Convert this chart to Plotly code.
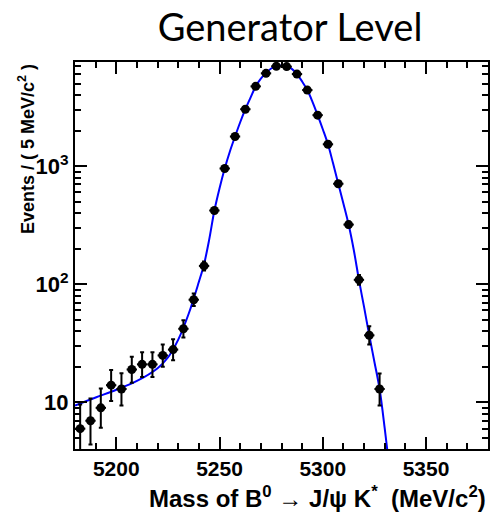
import plotly.graph_objects as go

# Data: bin centers (MeV/c^2) and event counts per 5 MeV bin
mass = [5182.5, 5187.5, 5192.5, 5197.5, 5202.5, 5207.5, 5212.5, 5217.5, 5222.5, 5227.5,
        5232.5, 5237.5, 5242.5, 5247.5, 5252.5, 5257.5, 5262.5, 5267.5, 5272.5, 5277.5,
        5282.5, 5287.5, 5292.5, 5297.5, 5302.5, 5307.5, 5312.5, 5317.5, 5322.5, 5327.5]
counts = [6, 7, 9, 14, 13, 19, 21, 21, 25, 28,
          42, 74, 143, 421, 955, 1780, 3030, 4730, 6100, 7000,
          6950, 6010, 4400, 2700, 1530, 709, 320, 109, 37, 13]
# asymmetric (Poisson-like) error bars
err_up = [3.6, 3.8, 4.1, 4.8, 4.7, 5.4, 5.6, 5.6, 6.0, 6.3,
          7.5, 9.6, 13, 21, 31, 42, 55, 69, 78, 84,
          83, 78, 66, 52, 39, 27, 18, 11, 7.1, 4.6]
err_dn = [2.4, 2.6, 2.9, 3.7, 3.6, 4.3, 4.6, 4.6, 5.0, 5.3,
          6.5, 8.6, 12, 20, 30, 41, 54, 68, 77, 83,
          82, 77, 65, 51, 38, 26, 17, 10, 6.1, 3.6]
bin_half = [2.5] * len(mass)

# Fit curve samples
fit_x = [5180, 5190, 5200, 5210, 5220, 5225, 5230, 5235, 5240, 5242.5, 5245, 5247.5,
         5250, 5252.5, 5255, 5257.5, 5260, 5262.5, 5265, 5267.5, 5270, 5272.5, 5275,
         5277.5, 5280, 5282.5, 5285, 5287.5, 5290, 5292.5, 5295, 5297.5, 5300, 5302.5,
         5305, 5307.5, 5310, 5312.5, 5315, 5317.5, 5320, 5322.5, 5325, 5327.5, 5330, 5332.5]
fit_y = [9.4, 11, 12.8, 15.2, 19.5, 24, 34, 56, 105, 148, 240, 421,
         650, 955, 1330, 1780, 2350, 3030, 3800, 4730, 5500, 6150, 6700,
         7000, 7100, 7000, 6650, 6010, 5200, 4400, 3500, 2700, 2050, 1530,
         1050, 709, 480, 320, 195, 109, 64, 37, 22, 13, 6.0, 2.5]

y_tickvals = [10, 100, 1000]
y_ticktext = ["10", "10<sup>2</sup>", "10<sup>3</sup>"]
y_minorvals = [5, 6, 7, 8, 9, 20, 30, 40, 50, 60, 70, 80, 90,
               200, 300, 400, 500, 600, 700, 800, 900, 2000, 3000, 4000, 5000, 6000, 7000]
x_tickvals = [5200, 5250, 5300, 5350]

fig = go.Figure()
fig.add_trace(go.Scatter(
    x=fit_x, y=fit_y, mode="lines", line=dict(color="#0000ff", width=2, shape="spline"),
    hoverinfo="skip", showlegend=False))
fig.add_trace(go.Scatter(
    x=mass, y=counts, mode="markers",
    marker=dict(color="black", size=9, symbol="circle"),
    error_y=dict(type="data", symmetric=False, array=err_up, arrayminus=err_dn,
                 color="black", thickness=2, width=2),
    error_x=dict(type="data", array=bin_half, color="black", thickness=2, width=0),
    showlegend=False))

axis_common = dict(showline=True, linecolor="black", linewidth=2, mirror="allticks",
                   ticks="inside", tickcolor="black", tickwidth=2, showgrid=False,
                   zeroline=False)

fig.update_xaxes(range=[5180, 5380], tickvals=x_tickvals, ticklen=12,
                 tickfont=dict(family="Liberation Sans", size=21, color="black", weight="bold"),
                 minor=dict(ticks="inside", dtick=10, ticklen=6, tickwidth=2, tickcolor="black",
                            showgrid=False),
                 **axis_common)
fig.update_yaxes(type="log", range=[0.606, 3.881], tickvals=y_tickvals, ticktext=y_ticktext,
                 ticklen=12,
                 tickfont=dict(family="Liberation Sans", size=22, color="black", weight="bold"),
                 minor=dict(ticks="inside", tickmode="array", tickvals=y_minorvals, ticklen=6,
                            tickwidth=2, tickcolor="black", showgrid=False),
                 **axis_common)

# The page body has an 8 px margin, so the figure is 8 px smaller and shifted.
W, H = 494, 506
fig.update_layout(
    width=W, height=H,
    margin=dict(l=67, r=14, t=54, b=65),
    plot_bgcolor="white", paper_bgcolor="white",
    title=dict(text="Generator Level", x=282 / W, xanchor="center", y=1 - 20 / H,
               yanchor="middle", font=dict(family="Lato", size=38, color="black")),
    annotations=[
        dict(text="Mass of B<sup>0</sup> → J/ψ K<sup>*</sup>  (MeV/c<sup>2</sup>)",
             xref="paper", yref="paper", x=1.0, y=-0.124, xanchor="right", yanchor="middle",
             showarrow=False,
             font=dict(family="Liberation Sans", size=24, color="black", weight="bold")),
        dict(text="Events / ( 5 MeV/c<sup>2</sup> )", textangle=-90,
             xref="paper", yref="paper", x=-0.1186, y=1.0, xanchor="center", yanchor="top",
             showarrow=False,
             font=dict(family="Liberation Sans", size=18, color="black", weight="bold")),
    ],
)

fig.write_html("out.html")
